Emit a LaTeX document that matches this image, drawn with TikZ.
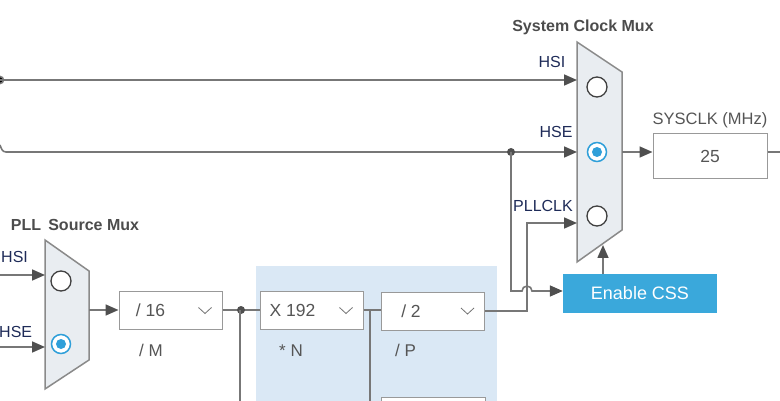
\documentclass[tikz,border=0pt]{standalone}
\usepackage{fontspec}
\setmainfont{Liberation Sans}
\usepackage{xcolor}
\usetikzlibrary{arrows.meta}

\definecolor{wire}{HTML}{777777}
\definecolor{tipgray}{HTML}{4F4F4F}
\definecolor{muxfill}{HTML}{E9EDF1}
\definecolor{muxline}{HTML}{8A8A8A}
\definecolor{pllbg}{HTML}{DAE8F5}
\definecolor{cssblue}{HTML}{3AA8DB}
\definecolor{selblue}{HTML}{2F9FD9}
\definecolor{signavy}{HTML}{1E2B58}
\definecolor{txtgray}{HTML}{555555}

\tikzset{
    wire/.style={draw=wire, line width=1.6pt},
    mux/.style={draw=muxline, fill=muxfill, line width=1.5pt, line join=miter},
    selbox/.style={draw=black!40, fill=white, line width=1pt, minimum width=103pt, minimum height=38pt, inner sep=0pt},
    boxtext/.style={text=txtgray, font=\fontsize{17.5}{18}\selectfont, inner sep=0pt},
    chevron/.style={draw=black!55, line width=0.8pt},
    sig/.style={text=signavy, font=\fontsize{16}{16}\selectfont, inner sep=0pt, anchor=base},
    muxtitle/.style={text=txtgray!90!black, font=\bfseries\fontsize{16}{16}\selectfont, inner sep=0pt, anchor=base},
    tag/.style={text=txtgray, font=\fontsize{17}{18}\selectfont, inner sep=0pt, anchor=base west},
    offsel/.style={draw=black!75, fill=white, line width=1.3pt},
    onsel/.style={draw=selblue, fill=white, line width=1.5pt}
}

\begin{document}
\begin{tikzpicture}[x=1pt, y=-1pt, >={Triangle[length=13pt, width=11pt, color=tipgray]}]
    \useasboundingbox (0,0) rectangle (780,401);

    \fill[pllbg] (256,266) rectangle (497,401);

    % system clock mux
    \draw[mux] (577,42) -- (622,72) -- (622,230) -- (577,262) -- cycle;
    \draw[offsel] (597,87) circle (10pt);
    \draw[onsel] (597,152) circle (9.5pt);
    \fill[selblue] (597,152) circle (5pt);
    \draw[offsel] (597,216) circle (10pt);
    \node[muxtitle] (sm-title) at (583,32) {System Clock Mux};
    \coordinate (sm-hsi) at (577,80);
    \coordinate (sm-hse) at (577,152);
    \coordinate (sm-pll) at (577,223);
    \coordinate (sm-out) at (622,152);
    \coordinate (sm-sel) at (603,245);
    \coordinate (hse-tap) at (511,152);
    \node[sig] (sm-hsi-lbl) at (552,68) {HSI};
    \node[sig] (sm-hse-lbl) at (556,138) {HSE};
    \node[sig] (sm-pll-lbl) at (543,212) {PLLCLK};

    % pll source mux
    \draw[mux] (45,240) -- (89,271) -- (89,360) -- (45,389) -- cycle;
    \draw[offsel] (61,281) circle (10pt);
    \draw[onsel] (61,344) circle (9.5pt);
    \fill[selblue] (61,344) circle (5pt);
    \node[muxtitle] (pm-title) at (75,230) {PLL\, Source Mux};
    \coordinate (pm-hsi) at (45,275);
    \coordinate (pm-hse) at (45,347);
    \coordinate (pm-out) at (89,310);
    \node[sig, anchor=base west] (pm-hsi-lbl) at (1,262) {HSI};
    \node[sig, anchor=base west] (pm-hse-lbl) at (-1,337) {HSE};

    % dividers
    \node[selbox] (divm) at (170.5,310.5) {};
    \node[boxtext] (divm-t) at ([xshift=32pt]divm.west) {/ 16};
    \draw[chevron] ([xshift=-24pt,yshift=3pt]divm.east) -- ++(6.5,6) -- ++(6.5,-6);
    \node[tag] (divm-lbl) at (139,356) {/ M};

    \node[selbox] (muln) at (311.5,310.5) {};
    \node[boxtext] (muln-t) at ([xshift=33pt]muln.west) {X 192};
    \draw[chevron] ([xshift=-24pt,yshift=3pt]muln.east) -- ++(6.5,6) -- ++(6.5,-6);
    \node[tag] (muln-lbl) at (279,356) {* N};

    \node[selbox] (divp) at (433,311) {};
    \node[boxtext] (divp-t) at ([xshift=30pt]divp.west) {/ 2};
    \draw[chevron] ([xshift=-24pt,yshift=3pt]divp.east) -- ++(6.5,6) -- ++(6.5,-6);
    \node[tag] (divp-lbl) at (395,356) {/ P};

    \draw[draw=black!40, fill=white, line width=1pt] (381,403) |- (485,397) -- (485,403);

    % outputs
    \node[draw=black!40, fill=white, line width=1pt, minimum width=114pt, minimum height=45pt, text=txtgray, font=\fontsize{17.5}{18}\selectfont] (sysclk) at (710,156.5) {25};
    \node[text=txtgray, font=\fontsize{16.5}{17}\selectfont, inner sep=0pt, anchor=base] (sysclk-lbl) at (710,125) {SYSCLK (MHz)};
    \node[fill=cssblue, text=white, minimum width=154pt, minimum height=39pt, font=\fontsize{18}{18}\selectfont] (css) at (640,293.5) {Enable CSS};

    % wires
    \draw[wire] (0,145) to[out=-70, in=180] (6,152) -- (hse-tap);
    \draw[wire,->] (hse-tap) -- (sm-hse);
    \fill[wire] (0,80) circle (3.5pt);
    \draw[wire,->] (0,80) -- (sm-hsi);
    \fill[tipgray] (hse-tap) circle (4pt);
    \draw[wire,->] (hse-tap) |- (522,291) arc[start angle=180, end angle=0, radius=5pt] -- (css.west |- 0,291);
    \draw[wire,->] (divp.east |- 0,311) -| (527,223) -- (sm-pll);
    \draw[wire,->] (css.north -| sm-sel) -- (sm-sel);
    \draw[wire,->] (sm-out) -- (sm-out -| sysclk.west);
    \draw[wire] (sysclk.east |- sm-out) -- (780,152);

    \draw[wire,->] (0,275) -- (pm-hsi);
    \draw[wire,->] (0,347) -- (pm-hse);
    \draw[wire,->] (pm-out) -- (pm-out -| divm.west);
    \draw[wire] (divm.east |- 0,310) -- (muln.west |- 0,310);
    \fill[tipgray] (241,310) circle (4pt);
    \draw[wire] (240,310) -- (240,402);
    \draw[wire] (muln.east |- 0,310) -- (divp.west |- 0,310);
    \draw[wire] (370,310) -- (370,402);
\end{tikzpicture}
\end{document}
